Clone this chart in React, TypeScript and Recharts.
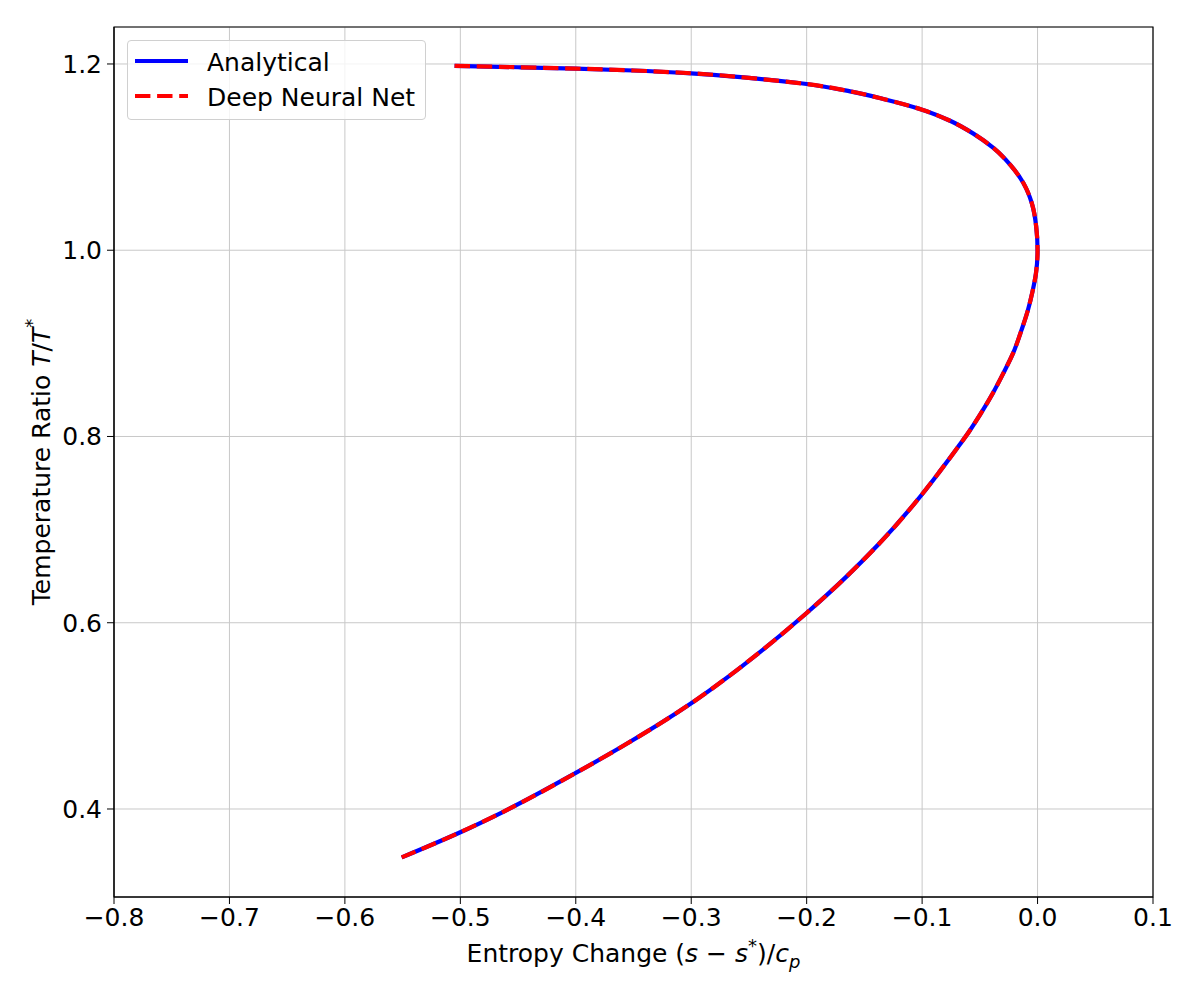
import React from 'react';
import {
  LineChart,
  Line,
  XAxis,
  YAxis,
  CartesianGrid,
  Legend,
  ReferenceArea,
  Label
} from 'recharts';

// Curve, ordered from the top end to the bottom end
const entropyChange = [
  -0.505, -0.45, -0.4, -0.35, -0.3, -0.25, -0.2, -0.1624, -0.1336, -0.1,
  -0.0758, -0.0556, -0.0383, -0.0238, -0.0123, -0.005, -0.0012, 0.0,
  -0.0014, -0.0045, -0.0085, -0.0137, -0.021, -0.0296, -0.0385, -0.0495,
  -0.06, -0.0705, -0.085, -0.1, -0.1375, -0.1653, -0.2, -0.2375,
  -0.2664, -0.3, -0.3559, -0.4, -0.4628, -0.5, -0.5508
];
const tempAnalytical = [
  1.198, 1.1965, 1.195, 1.193, 1.19, 1.185, 1.1785, 1.1706, 1.1624, 1.1509,
  1.139, 1.1252, 1.1098, 1.0919, 1.0722, 1.0507, 1.0256, 1.0,
  0.975, 0.955, 0.935, 0.915, 0.89, 0.868, 0.847, 0.824,
  0.804, 0.786, 0.762, 0.738, 0.6845, 0.6498, 0.6105, 0.5715,
  0.5435, 0.5135, 0.47, 0.4387, 0.397, 0.375, 0.348
];
const tempDnn = [
  1.198, 1.1965, 1.195, 1.193, 1.19, 1.185, 1.1785, 1.1706, 1.1624, 1.1509,
  1.139, 1.1252, 1.1098, 1.0919, 1.0722, 1.0507, 1.0256, 1.0,
  0.975, 0.955, 0.935, 0.915, 0.89, 0.868, 0.847, 0.824,
  0.804, 0.786, 0.762, 0.738, 0.6845, 0.6498, 0.6105, 0.5715,
  0.5435, 0.5135, 0.47, 0.4387, 0.397, 0.375, 0.348
];

const xTicks = [-0.8, -0.7, -0.6, -0.5, -0.4, -0.3, -0.2, -0.1, 0.0, 0.1];
const yTicks = [0.4, 0.6, 0.8, 1.0, 1.2];

const xDomain: [number, number] = [-0.8, 0.1];
const yDomain: [number, number] = [0.3055, 1.2397];

const FONT = '"DejaVu Sans", sans-serif';
const FS = 25;
const BLUE = '#0000ff';
const RED = '#ff0000';

const rows = entropyChange.map((s, i) => ({
  s,
  analytical: tempAnalytical[i],
  dnn: tempDnn[i]
}));

const fmt = (v: number) => {
  const t = Math.abs(v).toFixed(1);
  return v < -1e-9 ? `\u2212${t}` : t;
};

function LegendBox() {
  return (
    <div style={{
      width: 299,
      height: 80,
      boxSizing: 'border-box',
      border: '1px solid #d0d0d0',
      borderRadius: 4,
      background: 'rgba(255,255,255,0.8)',
      fontFamily: FONT,
      fontSize: FS
    }}>
      <svg width={297} height={78} style={{ display: 'block' }}>
        <line x1={7} x2={60} y1={20} y2={20} stroke={BLUE} strokeWidth={4.2} />
        <text x={79} y={21} dominantBaseline="central" fill="#000">Analytical</text>
        <line x1={7} x2={60} y1={55} y2={55} stroke={RED} strokeWidth={4.2} strokeDasharray="15.4 6.7" />
        <text x={79} y={56} dominantBaseline="central" fill="#000">Deep Neural Net</text>
      </svg>
    </div>
  );
}

export default function App() {
  return (
    <div style={{ width: 1184, height: 984, background: '#fff' }}>
      <LineChart
        width={1184}
        height={984}
        data={rows}
        margin={{ top: 19, right: 39, left: 0, bottom: 0 }}
      >
        <CartesianGrid stroke="#c8c8c8" strokeWidth={1} />
        <XAxis
          dataKey="s"
          type="number"
          domain={xDomain}
          ticks={xTicks}
          allowDataOverflow
          tickFormatter={fmt}
          height={95}
          tickSize={7}
          tickMargin={4}
          stroke="#000"
          tick={{ fill: '#000', fontSize: FS, fontFamily: FONT }}
        >
          <Label
            content={(props: any) => {
              const vb = props.viewBox || {};
              const cx = vb.x + vb.width / 2;
              const y = vb.y + 65;
              return (
                <text x={cx} y={y} textAnchor="middle" fontSize={FS} fontFamily={FONT} fill="#000">
                  Entropy Change (<tspan fontStyle="italic">s</tspan>{' \u2212 '}
                  <tspan fontStyle="italic">s</tspan>
                  <tspan dy={-10} fontSize={18}>*</tspan>
                  <tspan dy={10}>)/</tspan>
                  <tspan fontStyle="italic">c</tspan>
                  <tspan dy={6} fontSize={18} fontStyle="italic">p</tspan>
                </text>
              );
            }}
          />
        </XAxis>
        <YAxis
          type="number"
          domain={yDomain}
          ticks={yTicks}
          allowDataOverflow
          tickFormatter={(v: number) => v.toFixed(1)}
          width={106}
          tickSize={7}
          tickMargin={5}
          stroke="#000"
          tick={{ fill: '#000', fontSize: FS, fontFamily: FONT }}
        >
          <Label
            content={(props: any) => {
              const vb = props.viewBox || {};
              const cx = 33;
              const cy = vb.y + vb.height / 2;
              return (
                <text
                  x={cx}
                  y={cy}
                  textAnchor="middle"
                  dominantBaseline="central"
                  transform={`rotate(-90, ${cx}, ${cy})`}
                  fontSize={FS}
                  fontFamily={FONT}
                  fill="#000"
                >
                  Temperature Ratio <tspan fontStyle="italic">T</tspan>/<tspan fontStyle="italic">T</tspan>
                  <tspan dy={-10} fontSize={18}>*</tspan>
                </text>
              );
            }}
          />
        </YAxis>
        <ReferenceArea
          x1={xDomain[0]}
          x2={xDomain[1]}
          y1={yDomain[0]}
          y2={yDomain[1]}
          fill="none"
          stroke="#000"
          strokeWidth={1.2}
          ifOverflow="visible"
        />
        <Legend
          layout="vertical"
          align="center"
          verticalAlign="middle"
          wrapperStyle={{ left: 119, top: 32, width: 299, height: 80 }}
          content={() => <LegendBox />}
        />
        <Line
          type="monotoneY"
          dataKey="analytical"
          stroke={BLUE}
          strokeWidth={4.2}
          dot={false}
          activeDot={false}
          isAnimationActive={false}
        />
        <Line
          type="monotoneY"
          dataKey="dnn"
          stroke={RED}
          strokeWidth={4.2}
          strokeDasharray="15.4 6.7"
          dot={false}
          activeDot={false}
          isAnimationActive={false}
        />
      </LineChart>
    </div>
  );
}
